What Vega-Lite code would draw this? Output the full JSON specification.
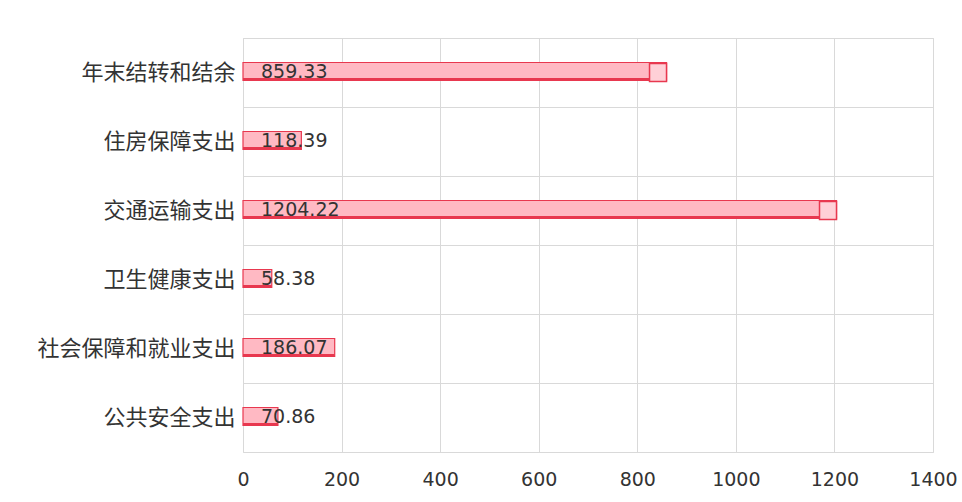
{
  "$schema": "https://vega.github.io/schema/vega-lite/v6.json",
  "autosize": "none",
  "width": 690,
  "height": 414,
  "padding": {"left": 243, "top": 38, "right": 29, "bottom": 50},
  "background": "white",
  "config": {
    "font": "Noto Sans CJK SC",
    "view": {"stroke": "#d9d9d9", "strokeWidth": 1}
  },
  "data": {
    "values": [
      {"category": "年末结转和结余", "value": 859.33},
      {"category": "住房保障支出", "value": 118.39},
      {"category": "交通运输支出", "value": 1204.22},
      {"category": "卫生健康支出", "value": 58.38},
      {"category": "社会保障和就业支出", "value": 186.07},
      {"category": "公共安全支出", "value": 70.86}
    ]
  },
  "encoding": {
    "y": {
      "field": "category",
      "type": "nominal",
      "sort": null,
      "scale": {"paddingInner": 0, "paddingOuter": 0},
      "axis": {
        "title": null,
        "domain": false,
        "ticks": false,
        "grid": true,
        "gridColor": "#d9d9d9",
        "bandPosition": 0,
        "labelFontSize": 22,
        "labelColor": "#333333",
        "labelPadding": 8,
        "labelFont": "Noto Sans CJK SC",
        "labelLimit": 300
      }
    }
  },
  "layer": [
    {
      "mark": {"type": "bar", "height": 18, "fill": "#ffb9c3", "stroke": "#e8384f", "strokeWidth": 1.2, "yOffset": -1},
      "encoding": {
        "x": {
          "field": "value",
          "type": "quantitative",
          "scale": {"domain": [0, 1400], "nice": false},
          "axis": {
            "title": null,
            "values": [0, 200, 400, 600, 800, 1000, 1200, 1400],
            "format": "d",
            "domain": false,
            "ticks": false,
            "grid": true,
            "gridColor": "#d9d9d9",
            "labelFontSize": 19,
            "labelColor": "#333333",
            "labelPadding": 18,
            "labelFlush": false,
            "labelOverlap": false,
            "labelFont": "DejaVu Sans"
          }
        }
      }
    },
    {
      "mark": {"type": "bar", "height": 3, "fill": "#e8384f", "yOffset": 7},
      "encoding": {
        "x": {"field": "value", "type": "quantitative"}
      }
    },
    {
      "transform": [{"filter": "datum.value > 500"}],
      "mark": {"type": "bar", "height": 18, "fill": "#ffd0d7", "stroke": "#e8384f", "strokeWidth": 1.5, "yOffset": 0, "xOffset": -17},
      "encoding": {
        "x": {"field": "value", "type": "quantitative"},
        "x2": {"field": "value"}
      }
    },
    {
      "mark": {"type": "text", "align": "left", "baseline": "middle", "dx": 18, "dy": -1, "fontSize": 19, "color": "#333333", "font": "DejaVu Sans"},
      "encoding": {
        "x": {"datum": 0, "type": "quantitative"},
        "text": {"field": "value", "type": "quantitative", "format": ".2f"}
      }
    }
  ]
}
